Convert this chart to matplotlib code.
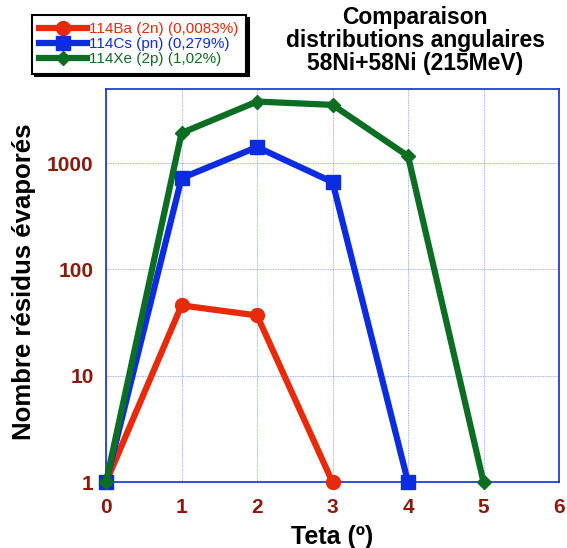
import matplotlib.pyplot as plt
from matplotlib.ticker import NullLocator, FixedLocator, FixedFormatter

plt.rcParams['font.family'] = ['Liberation Sans', 'DejaVu Sans']

# angular distributions of evaporation residues
teta = [0, 1, 2, 3, 4, 5]
ba = [1, 46, 37, 1]
cs = [1, 722, 1415, 663, 1]
xe = [1, 1920, 3790, 3530, 1165, 1]

labels = ['114Ba (2n) (0,0083%)', '114Cs (pn) (0,279%)', '114Xe (2p) (1,02%)']
colors = ['#e62a0a', '#0b2ce0', '#0c6e22']

xticks = [0, 1, 2, 3, 4, 5, 6]
yticks = [1, 10, 100, 1000]
ytick_labels = ['1', '10', '100', '1000']

fig = plt.figure(figsize=(5.67, 5.48), dpi=100)
ax = fig.add_axes([0.187, 0.120, 0.799, 0.718])

ax.plot(teta[:len(ba)], ba, color=colors[0], lw=4.5, marker='o', ms=10,
        label=labels[0], clip_on=False, zorder=3)
ax.plot(teta[:len(cs)], cs, color=colors[1], lw=4.5, marker='s', ms=9.5,
        label=labels[1], clip_on=False, zorder=4)
ax.plot(teta[:len(xe)], xe, color=colors[2], lw=4.5, marker='D', ms=7,
        label=labels[2], clip_on=False, zorder=5)

ax.set_yscale('log')
ax.set_xlim(0, 6)
ax.set_ylim(1, 5000)
ax.xaxis.set_major_locator(FixedLocator(xticks))
ax.yaxis.set_major_locator(FixedLocator(yticks))
ax.yaxis.set_major_formatter(FixedFormatter(ytick_labels))
ax.yaxis.set_minor_locator(NullLocator())

tick_color = '#8b1a0c'
ax.tick_params(axis='x', length=0, pad=11, labelsize=15, labelcolor=tick_color)
ax.tick_params(axis='y', length=0, pad=9, labelsize=15, labelcolor=tick_color)
for lab in ax.get_xticklabels() + ax.get_yticklabels():
    lab.set_fontweight('bold')

ax.grid(True, color='#3050e0', lw=0.6, ls=(0, (1, 1)), alpha=0.6)
for sp in ax.spines.values():
    sp.set_color('#1030d0')
    sp.set_linewidth(1.2)

ax.set_xlabel('Teta (º)', fontsize=18, fontweight='bold', labelpad=6)
ax.set_ylabel('Nombre résidus évaporés', fontsize=18.5, fontweight='bold', labelpad=6)
ax.yaxis.set_label_coords(-0.155, 0.51)

fig.text(0.732, 0.926, 'Comparaison\ndistributions angulaires\n58Ni+58Ni (215MeV)',
         ha='center', va='center', fontsize=16.5, fontweight='bold', linespacing=0.98)

leg = fig.legend(loc='upper left', bbox_to_anchor=(0.056, 0.973), fontsize=11,
                 frameon=True, fancybox=False, shadow={'color': 'black', 'alpha': 1},
                 handlelength=3.1, handletextpad=0.15, labelspacing=0.05,
                 borderpad=0.5, borderaxespad=0)
leg.get_frame().set_edgecolor('black')
leg.get_frame().set_linewidth(1.5)
for txt, c in zip(leg.get_texts(), colors):
    txt.set_color(c)

fig.savefig('out.png', dpi=100)
